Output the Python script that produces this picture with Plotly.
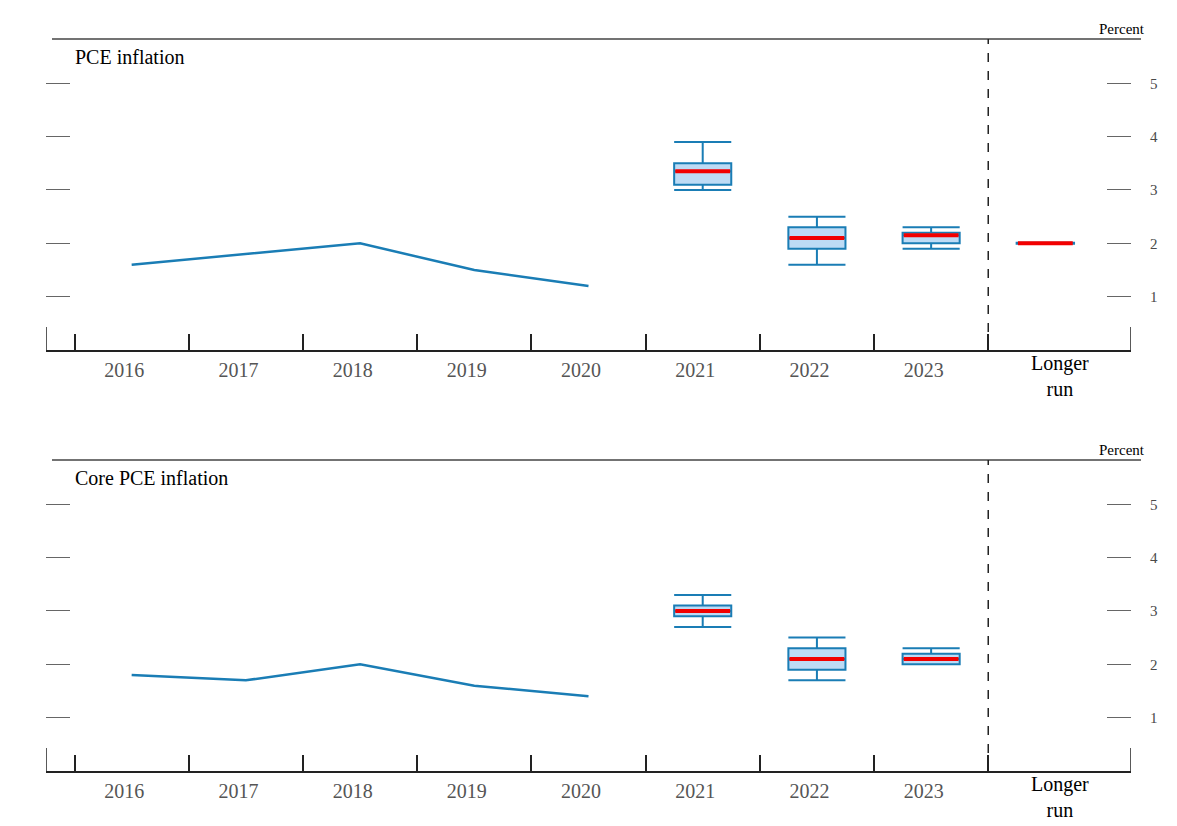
"""
FOMC projections: PCE and core PCE inflation, history line plus projection boxes.
"""
import plotly.graph_objects as go

# Categories along the x axis (position = index)
categories = ["2016", "2017", "2018", "2019", "2020", "2021", "2022", "2023", "Longer run"]

# Historical values (2016-2020)
hist_pos = [0, 1, 2, 3, 4]
pce_hist = [1.6, 1.8, 2.0, 1.5, 1.2]
core_hist = [1.8, 1.7, 2.0, 1.6, 1.4]

# Projections (2021-2023): range, central tendency, median
proj_pos = [5, 6, 7]
pce_range_low = [3.0, 1.6, 1.9]
pce_range_high = [3.9, 2.5, 2.3]
pce_ct_low = [3.1, 1.9, 2.0]
pce_ct_high = [3.5, 2.3, 2.2]
pce_median = [3.35, 2.1, 2.15]
pce_longer_run = 2.0
longer_run_pos = 8

core_range_low = [2.7, 1.7, 2.0]
core_range_high = [3.3, 2.5, 2.3]
core_ct_low = [2.9, 1.9, 2.0]
core_ct_high = [3.1, 2.3, 2.2]
core_median = [3.0, 2.1, 2.1]

y_ticks = [1, 2, 3, 4, 5]

LINE_BLUE = "#1a7db5"
BOX_FILL = "#bddbf5"
MEDIAN_RED = "#f20000"
AXIS = "#222222"
FONT = "Liberation Serif"

X_RANGE = [-0.75, 8.75]
Y_RANGE = [0, 5.83]


def add_panel(fig, xa, ya, hist, r_lo, r_hi, ct_lo, ct_hi, med, longer_run=None):
    fig.add_trace(go.Scatter(x=hist_pos, y=hist, mode="lines",
                             line=dict(color=LINE_BLUE, width=2.5),
                             xaxis=xa, yaxis=ya, showlegend=False, hoverinfo="skip"))
    fig.add_trace(go.Box(x=proj_pos, q1=ct_lo, q3=ct_hi, median=med,
                         lowerfence=r_lo, upperfence=r_hi,
                         fillcolor=BOX_FILL, line=dict(color=LINE_BLUE, width=2),
                         width=0.5, whiskerwidth=1, boxpoints=False,
                         xaxis=xa, yaxis=ya, showlegend=False, hoverinfo="skip"))
    # red median bars drawn as zero-height boxes
    fig.add_trace(go.Box(x=proj_pos, q1=med, q3=med, median=med,
                         lowerfence=med, upperfence=med,
                         fillcolor=MEDIAN_RED, line=dict(color=MEDIAN_RED, width=4),
                         width=0.48, whiskerwidth=1, boxpoints=False,
                         xaxis=xa, yaxis=ya, showlegend=False, hoverinfo="skip"))
    if longer_run is not None:
        lr = [longer_run]
        fig.add_trace(go.Box(x=[longer_run_pos], q1=lr, q3=lr, median=lr,
                             lowerfence=lr, upperfence=lr,
                             line=dict(color=LINE_BLUE, width=3),
                             width=0.52, boxpoints=False,
                             xaxis=xa, yaxis=ya, showlegend=False, hoverinfo="skip"))
        fig.add_trace(go.Box(x=[longer_run_pos], q1=lr, q3=lr, median=lr,
                             lowerfence=lr, upperfence=lr,
                             line=dict(color=MEDIAN_RED, width=4),
                             width=0.48, boxpoints=False,
                             xaxis=xa, yaxis=ya, showlegend=False, hoverinfo="skip"))


fig = go.Figure()
add_panel(fig, "x", "y", pce_hist, pce_range_low, pce_range_high,
          pce_ct_low, pce_ct_high, pce_median, pce_longer_run)
add_panel(fig, "x2", "y2", core_hist, core_range_low, core_range_high,
          core_ct_low, core_ct_high, core_median)

# year labels sit a little left of the data centres, as in the original
label_pos = [i - 0.065 for i in range(8)]
label_text = categories[:8]

xaxis_cfg = dict(range=X_RANGE, showgrid=False, zeroline=False, automargin=False,
                 showline=True, linecolor=AXIS, linewidth=1.5,
                 tickmode="array", tickvals=label_pos, ticktext=label_text,
                 ticks="", tickfont=dict(size=20, color="#555555", family=FONT),
                 ticklabelstandoff=1,
                 minor=dict(tickmode="array", tickvals=[i - 0.5 for i in range(9)],
                            ticks="inside", ticklen=16, tickwidth=1.5, tickcolor=AXIS))
yaxis_cfg = dict(range=Y_RANGE, showgrid=False, zeroline=False, showline=False,
                 automargin=False,
                 side="right", tickmode="array", tickvals=y_ticks,
                 ticks="inside", ticklen=24, tickwidth=1.3, tickcolor="#666666",
                 mirror="ticks", ticklabelstandoff=18,
                 tickfont=dict(size=15, color="#4a4a4a", family=FONT))

fig.update_layout(
    width=1177, height=826,
    margin=dict(l=38, r=54, t=31, b=63),
    paper_bgcolor="white", plot_bgcolor="white",
    font=dict(family=FONT),
    boxmode="overlay",
    xaxis=dict(xaxis_cfg, anchor="y"),
    yaxis=dict(yaxis_cfg, domain=[0.5751, 1], anchor="x"),
    xaxis2=dict(xaxis_cfg, anchor="y2"),
    yaxis2=dict(yaxis_cfg, domain=[0, 0.4249], anchor="x2"),
)

for xr, yr, title in [("x", "y", "PCE inflation"), ("x2", "y2", "Core PCE inflation")]:
    # top rule of each panel
    fig.add_shape(type="line", xref="paper", yref=f"{yr} domain",
                  x0=0.0055, x1=1.0092, y0=1, y1=1,
                  line=dict(color="#444444", width=1.5))
    # dashed divider before longer run
    fig.add_shape(type="line", xref=xr, yref=f"{yr} domain",
                  x0=7.5, x1=7.5, y0=0, y1=1,
                  line=dict(color=AXIS, width=1.5, dash="dash"))
    # end ticks of the x axis
    for xv in X_RANGE:
        fig.add_shape(type="line", xref=xr, yref=yr, x0=xv, x1=xv, y0=0, y1=0.43,
                      line=dict(color=AXIS, width=1.5))
    fig.add_annotation(text="Longer<br>run", xref=xr, yref=f"{yr} domain",
                       x=8.125, y=0, xanchor="center", yanchor="top", yshift=0,
                       showarrow=False, font=dict(size=20, color="#000000", family=FONT))
    fig.add_annotation(text=title, xref="paper", yref=f"{yr} domain",
                       x=0.0245, y=0.942, xanchor="left", yanchor="middle",
                       showarrow=False, font=dict(size=20, color="#000000", family=FONT))
    fig.add_annotation(text="Percent", xref="paper", yref=f"{yr} domain",
                       x=1.0147, y=1, xanchor="right", yanchor="bottom", yshift=0,
                       showarrow=False, font=dict(size=15, color="#000000", family=FONT))

fig.write_html("out.html")
